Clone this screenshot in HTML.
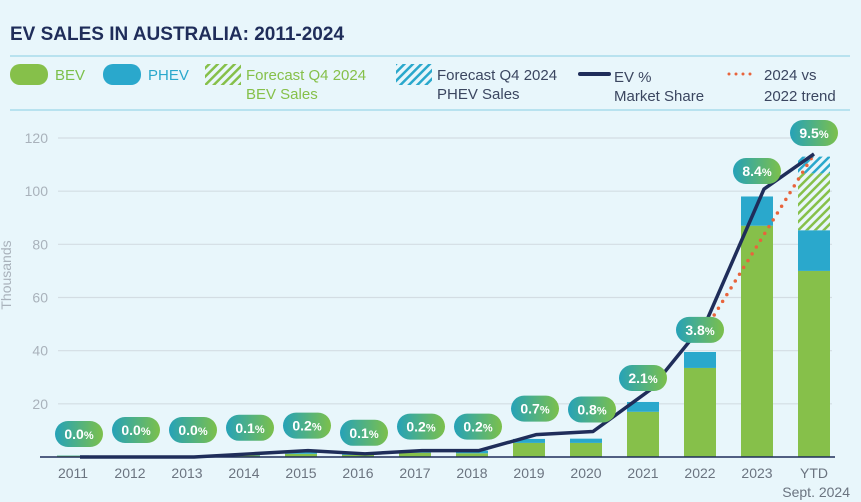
<!DOCTYPE html>
<html><head><meta charset="utf-8"><style>
body{margin:0;background:#e8f6fb;font-family:"Liberation Sans",sans-serif;}
#wrap{position:relative;width:861px;height:502px;overflow:hidden;background:#e8f6fb;}
</style></head><body>
<div id="wrap">
<svg id="svg" width="861" height="502" xmlns="http://www.w3.org/2000/svg">
<defs>
<pattern id="hg" patternUnits="userSpaceOnUse" width="6" height="6" patternTransform="rotate(45)"><rect width="6" height="6" fill="#e8f6fb"/><rect width="2.5" height="6" fill="#86c04a"/></pattern>
<pattern id="hb" patternUnits="userSpaceOnUse" width="6" height="6" patternTransform="rotate(45)"><rect width="6" height="6" fill="#e8f6fb"/><rect width="2.5" height="6" fill="#2aa8cc"/></pattern>
<linearGradient id="pg" x1="0" x2="1" y1="0" y2="0"><stop offset="0" stop-color="#26a2b8"/><stop offset="1" stop-color="#7cc04b"/></linearGradient>
</defs>
<text x="10" y="40" font-size="19" font-weight="bold" fill="#1f2d5a">EV SALES IN AUSTRALIA: 2011-2024</text>
<rect x="10" y="55" width="840" height="2" fill="#b8e2ef"/>
<rect x="10" y="109" width="840" height="2" fill="#b8e2ef"/>
<g font-size="15">
<g><rect x="10" y="64" width="38" height="21" rx="10" fill="#86c04a"/><text x="55" y="80" fill="#7cc04b">BEV</text></g>
<g><rect x="103" y="64" width="38" height="21" rx="10" fill="#2aa8cc"/><text x="148" y="80" fill="#2aa8cc">PHEV</text></g>
<g><rect x="205" y="64" width="36" height="21" fill="url(#hg)"/><text x="246" y="80" fill="#86c04a">Forecast Q4 2024</text><text x="246" y="99" fill="#86c04a">BEV Sales</text></g>
<g><rect x="396" y="64" width="36" height="21" fill="url(#hb)"/><text x="437" y="80" fill="#3b4660">Forecast Q4 2024</text><text x="437" y="99" fill="#3b4660">PHEV Sales</text></g>
<g><rect x="578" y="72" width="33" height="4" rx="2" fill="#1f2d5a"/><text x="614" y="82" fill="#3b4660">EV %</text><text x="614" y="101" fill="#3b4660">Market Share</text></g>
<g><line x1="729" y1="74" x2="756" y2="74" stroke="#e8643c" stroke-width="3" stroke-dasharray="0 7" stroke-linecap="round"/><text x="764" y="80" fill="#3b4660">2024 vs</text><text x="764" y="101" fill="#3b4660">2022 trend</text></g>
</g>
<text transform="translate(11,275) rotate(-90)" text-anchor="middle" font-size="14" fill="#a9b2bb">Thousands</text>
<g id="grid"></g><g id="bars"></g><g id="lines"></g><g id="pills"></g>
</svg>
</div>
<script>
const categories=["2011","2012","2013","2014","2015","2016","2017","2018","2019","2020","2021","2022","2023","YTD"];
const bev=[0.5,0.2,0.2,0.6,1.2,0.8,1.6,1.4,5.3,5.3,17,33.5,87,70];
const phev=[0.1,0.1,0.1,0.6,0.6,0.7,0.6,1.0,1.5,1.6,3.7,6,11,15.3];
const forecastBev=[0,0,0,0,0,0,0,0,0,0,0,0,0,21.4];
const forecastPhev=[0,0,0,0,0,0,0,0,0,0,0,0,0,6.3];
const share=[0.0,0.0,0.0,0.1,0.2,0.1,0.2,0.2,0.7,0.8,2.1,4.3,8.4,9.5];
const shareLabels=["0.0","0.0","0.0","0.1","0.2","0.1","0.2","0.2","0.7","0.8","2.1","3.8","8.4","9.5"];
const yTicks=[20,40,60,80,100,120];
const shareMax=10, yMax=120;
const NS="http://www.w3.org/2000/svg";
const y0=457, pxPerUnit=(457-138)/120;
function Y(v){return y0-v*pxPerUnit;}
function X(i){return 73+i*57.0;}
function YS(s){return Y(s/shareMax*yMax);}
function mk(tag,attrs,parent){const e=document.createElementNS(NS,tag);for(const k in attrs)e.setAttribute(k,attrs[k]);parent.appendChild(e);return e;}
const grid=document.getElementById('grid'),bars=document.getElementById('bars'),lines=document.getElementById('lines'),pills=document.getElementById('pills');
yTicks.forEach(t=>{
 const l=mk('line',{x1:58,x2:832,y1:Y(t),y2:Y(t),stroke:'#d3dde3','stroke-width':1.2},grid);
 
 
 const tx=mk('text',{x:48,y:Y(t)+5,'text-anchor':'end','font-size':14,fill:'#a9b2bb'},grid);
 tx.textContent=t;
 
 
});
categories.forEach((c,i)=>{
 const w=32,x=X(i)-w/2;
 let b=mk('rect',{x:x,y:Y(bev[i]),width:w,height:y0-Y(bev[i]),fill:'#86c04a'},bars);
 
 
 let p=mk('rect',{x:x,y:Y(bev[i]+phev[i]),width:w,height:Y(bev[i])-Y(bev[i]+phev[i]),fill:'#2aa8cc'},bars);
 
 
 const base=bev[i]+phev[i];
 if(forecastBev[i]>0){
  let f=mk('rect',{x:x,y:Y(base+forecastBev[i]),width:w,height:Y(base)-Y(base+forecastBev[i]),fill:'url(#hg)'},bars);
  
  
 }
 if(forecastPhev[i]>0){
  const b2=base+forecastBev[i];
  let f=mk('rect',{x:x,y:Y(b2+forecastPhev[i]),width:w,height:Y(b2)-Y(b2+forecastPhev[i]),fill:'url(#hb)'},bars);
  
  
 }
 const t=mk('text',{x:X(i),y:478,'text-anchor':'middle','font-size':14,fill:'#6b7480'},bars);
 t.textContent=c;
 
 
});
const sub=mk('text',{x:850,y:497,'text-anchor':'end','font-size':14,fill:'#6b7480'},bars);
sub.textContent='Sept. 2024';


const ax=mk('line',{x1:40,x2:835,y1:y0,y2:y0,stroke:'#1f2d5a','stroke-width':1.5},bars);


// trend
const tr=mk('line',{x1:X(11)+10,y1:YS(share[11])+2,x2:X(13),y2:YS(share[13]),stroke:'#e8643c','stroke-width':3.5,'stroke-dasharray':'0 8','stroke-linecap':'round'},lines);


const pts=share.map((s,i)=>(X(i)+(i==13?0:7))+','+YS(s)).join(' ');
const pl=mk('polyline',{points:pts,fill:'none',stroke:'#1f2d5a','stroke-width':3.5,'stroke-linejoin':'round'},lines);


share.forEach((s,i)=>{
 const off=[23,27,27,26,25,21,24,24,26,22,12,-10,18,21][i];
 const cx=X(i)+(i<10?6:0), cy=YS(s)-off;
 const g=mk('g',{},pills);
 
 
 mk('rect',{x:cx-24,y:cy-13,width:48,height:26,rx:13,fill:'url(#pg)'},g);
 const t=mk('text',{x:cx,y:cy+5,'text-anchor':'middle','font-size':14,'font-weight':'bold',fill:'#fff'},g);
 t.innerHTML=shareLabels[i]+'<tspan font-size="11">%</tspan>';
});
</script>
</body></html>
